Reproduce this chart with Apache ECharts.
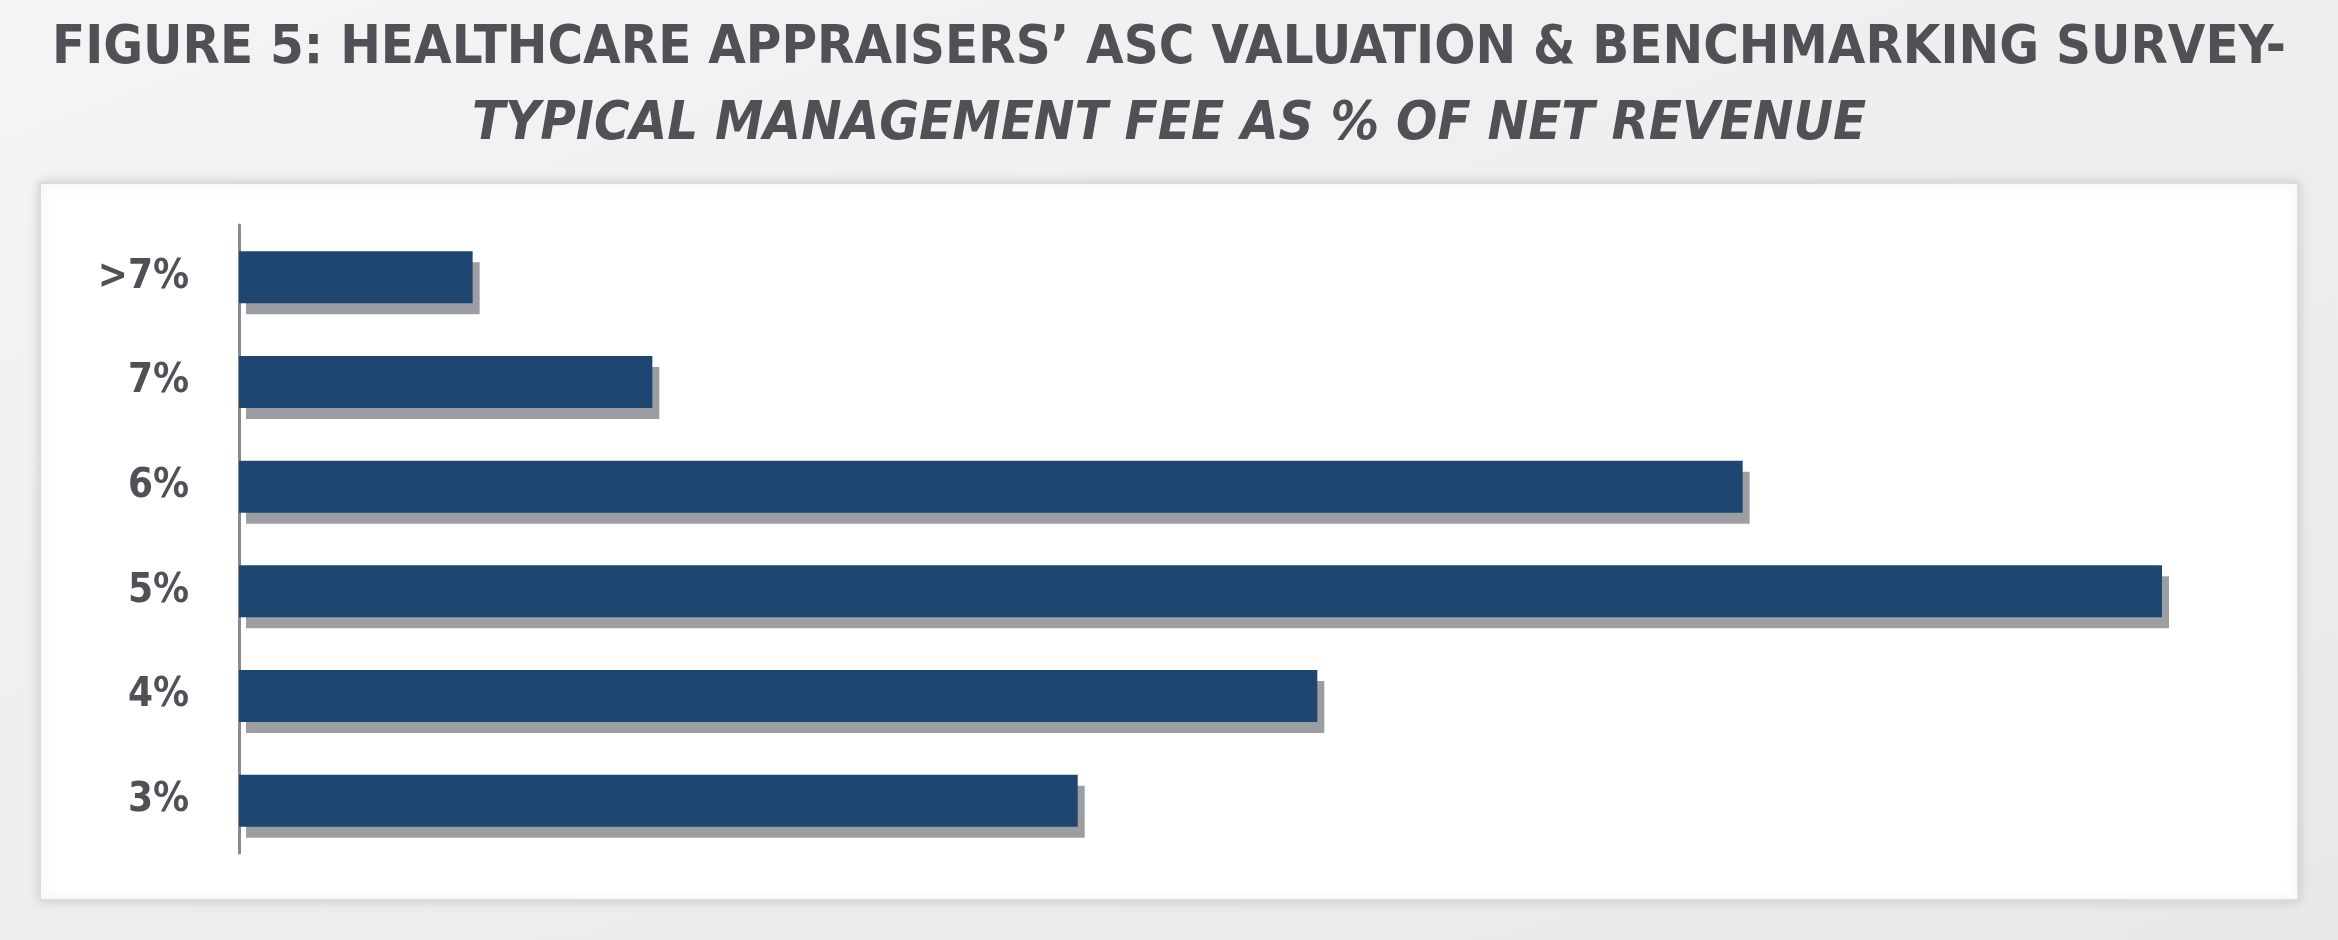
<!DOCTYPE html>
<html><head><meta charset="utf-8">
<script src="https://cdn.jsdelivr.net/npm/echarts@6/dist/echarts.min.js"></script>
<style>html,body{margin:0;padding:0;background:linear-gradient(160deg,#f4f4f4,#e8e8e8);}#c{width:2338px;height:940px;}</style>
</head><body><div id="c"></div>
<script>
const categories = ['3%', '4%', '5%', '6%', '7%', '>7%'];
const values = [14.0, 18.0, 32.1, 25.1, 6.9, 3.9];
const titleLine1 = 'FIGURE 5: HEALTHCARE APPRAISERS\u2019 ASC VALUATION & BENCHMARKING SURVEY-';
const titleLine2 = 'TYPICAL MANAGEMENT FEE AS % OF NET REVENUE';
const font = '"Liberation Sans Narrow","DejaVu Sans Condensed","Roboto",sans-serif';
const chart = echarts.init(document.getElementById('c'));
chart.setOption({
  backgroundColor: 'transparent',
  graphic: [
    {type:'rect', shape:{x:40,y:183,width:2258,height:717}, style:{fill:'#fff', stroke:'#dcdcdc', lineWidth:2, shadowBlur:12, shadowColor:'rgba(0,0,0,0.15)'}, z:-10},
    {type:'text', left:'center', top:22, style:{text:titleLine1, font:'bold 54px '+font, fill:'#505157'}},
    {type:'text', left:'center', top:98, style:{text:titleLine2, font:'italic bold 54px '+font, fill:'#505157'}}
  ],
  grid: {left:239, right:176, top:225, bottom:87},
  xAxis: {type:'value', min:0, max:32.1, show:false},
  yAxis: {type:'category', data:categories,
    axisLine:{show:true, lineStyle:{color:'#8a8a8a', width:3}},
    axisTick:{show:false},
    axisLabel:{color:'#505157', fontSize:40, fontWeight:'bold', fontFamily:font, margin:50}},
  series: [{type:'bar', data:values, barWidth:52, animation:false,
    itemStyle:{color:'#1f4670', shadowColor:'#9c9ea3', shadowOffsetY:11, shadowOffsetX:7, shadowBlur:0}}]
});
</script></body></html>
